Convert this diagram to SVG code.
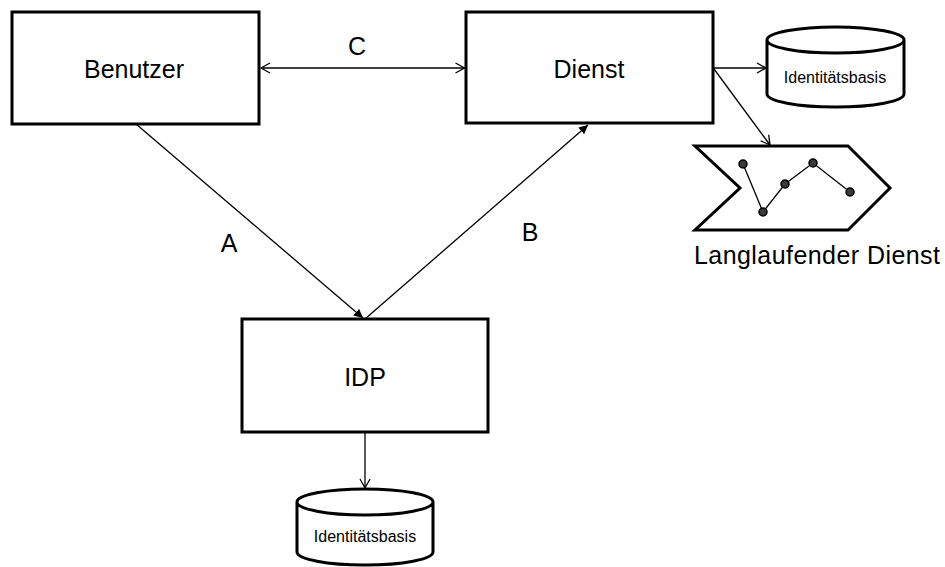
<svg xmlns="http://www.w3.org/2000/svg" width="945" height="567" viewBox="0 0 945 567">
<style>
.box{fill:#fff;stroke:#000;stroke-width:3}
.shape{fill:#fff;stroke:#000;stroke-width:3;stroke-linejoin:miter}
.conn{stroke:#000;stroke-width:1.3;fill:none}
.lbl{font-family:"Liberation Sans",Arial,sans-serif;font-size:25px;fill:#000;text-anchor:middle}
.small{font-family:"Liberation Sans",Arial,sans-serif;font-size:16px;fill:#000;text-anchor:middle}
.dot{fill:#3a3a3a;stroke:#000;stroke-width:1.5}
</style>
<defs>
<marker id="open" markerUnits="userSpaceOnUse" markerWidth="12" markerHeight="12" viewBox="0 0 12 12" refX="10" refY="6" orient="auto-start-reverse">
<path d="M1,1 L10,6 L1,11" fill="none" stroke="#000" stroke-width="1.3"/>
</marker>
<marker id="fill" markerUnits="userSpaceOnUse" markerWidth="10" markerHeight="10" viewBox="0 0 10 10" refX="9" refY="4.5" orient="auto">
<path d="M0,0 L9,4.5 L0,9 Z" fill="#000"/>
</marker>
</defs>
<g id="connectors">
<line class="conn" x1="261" y1="68" x2="464.5" y2="68" marker-start="url(#open)" marker-end="url(#open)"/>
<line class="conn" x1="136" y1="124" x2="363" y2="318" marker-end="url(#fill)"/>
<line class="conn" x1="365" y1="319" x2="588" y2="125" marker-end="url(#fill)"/>
<line class="conn" x1="365" y1="433" x2="365" y2="488" marker-end="url(#open)"/>
<line class="conn" x1="714" y1="68" x2="766" y2="68" marker-end="url(#open)"/>
<line class="conn" x1="714" y1="69" x2="770" y2="145" marker-end="url(#open)"/>
</g>
<g id="benutzer">
<rect class="box" x="12" y="12" width="247" height="112"/>
<text class="lbl" x="134" y="78">Benutzer</text>
</g>
<g id="dienst">
<rect class="box" x="466" y="12" width="247" height="111"/>
<text class="lbl" x="589" y="78">Dienst</text>
</g>
<g id="idp">
<rect class="box" x="242" y="319" width="246" height="113"/>
<text class="lbl" x="365" y="386">IDP</text>
</g>
<g id="db-dienst">
<path class="shape" d="M767,40 A68.5,13 0 0 1 904,40 L904,94 A68.5,13 0 0 1 767,94 Z M767,40 A68.5,13 0 0 0 904,40"/>
<text class="small" x="835" y="83">Identitätsbasis</text>
</g>
<g id="db-idp">
<path class="shape" d="M297,502 A68,13 0 0 1 433,502 L433,552 A68,13 0 0 1 297,552 Z M297,502 A68,13 0 0 0 433,502"/>
<text class="small" x="365" y="542">Identitätsbasis</text>
</g>
<g id="langlaufender-dienst">
<polygon class="shape" points="695,146 848,146 890,188 848,230 695,230 740,188"/>
<polyline class="conn" points="743,164 763,212 785,184 813,163 850,192"/>
<circle class="dot" cx="743" cy="164" r="4"/>
<circle class="dot" cx="763" cy="212" r="4"/>
<circle class="dot" cx="785" cy="184" r="4"/>
<circle class="dot" cx="813" cy="163" r="4"/>
<circle class="dot" cx="850" cy="192" r="4"/>
<text class="lbl" x="694" y="264" style="text-anchor:start" textLength="246" lengthAdjust="spacing">Langlaufender Dienst</text>
</g>
<g id="labels">
<text class="lbl" x="357" y="55">C</text>
<text class="lbl" x="229" y="252">A</text>
<text class="lbl" x="530" y="241">B</text>
</g>
</svg>
